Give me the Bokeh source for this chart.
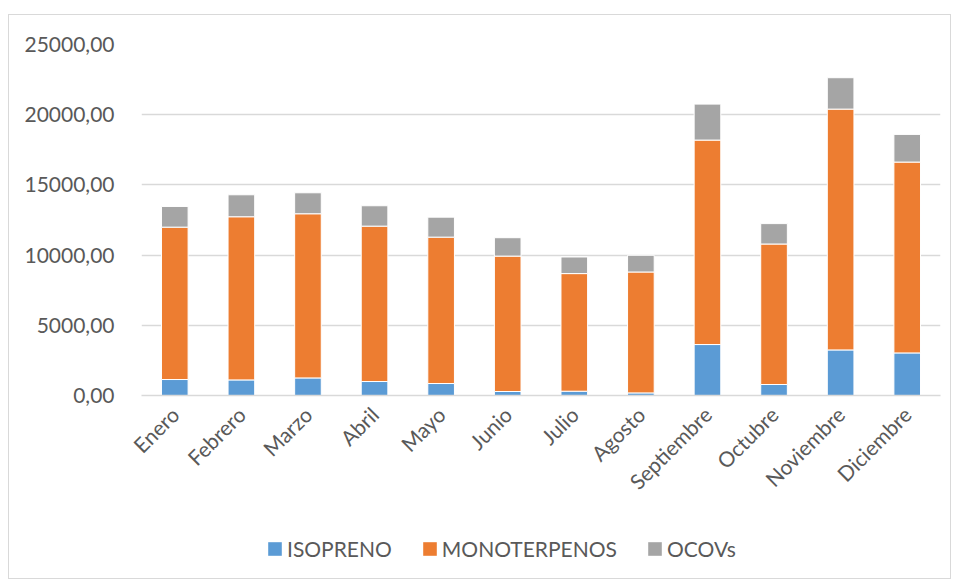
from bokeh.plotting import figure
from bokeh.models import (ColumnDataSource, FactorRange, Range1d, FixedTicker,
                          Legend, LegendItem)
from bokeh.layouts import column
from bokeh.embed import file_html
from bokeh.resources import INLINE
import math

months = ["Enero", "Febrero", "Marzo", "Abril", "Mayo", "Junio", "Julio",
          "Agosto", "Septiembre", "Octubre", "Noviembre", "Diciembre"]
isopreno = [1138, 1110, 1252, 996, 853, 284, 306, 185, 3630, 783, 3246, 3032]
monoterpenos = [10853, 11621, 11693, 11067, 10427, 9645, 8377, 8612, 14562,
                10007, 17153, 13594]
ocovs = [1473, 1565, 1493, 1451, 1423, 1309, 1182, 1189, 2562, 1452, 2234, 1972]
series = ["ISOPRENO", "MONOTERPENOS", "OCOVs"]
colors = ["#5B9BD5", "#ED7D31", "#A5A5A5"]
y_ticks = [0, 5000, 10000, 15000, 20000, 25000]
y_tick_labels = ["0,00", "5000,00", "10000,00", "15000,00", "20000,00", "25000,00"]

FONT = "Lato"
TXT = "#595959"
FS = "21px"

src = ColumnDataSource(dict(month=months, ISOPRENO=isopreno,
                            MONOTERPENOS=monoterpenos, OCOVs=ocovs))

# main chart
p = figure(x_range=FactorRange(*months, range_padding=0),
           y_range=Range1d(0, 25000),
           width=941, height=505, output_backend="svg", toolbar_location=None,
           min_border_left=132, min_border_right=10, min_border_top=29,
           min_border_bottom=125)
p.outline_line_color = None

p.vbar_stack(series, x="month", width=0.4, color=colors,
             line_color="white", line_width=1, source=src)

p.xgrid.grid_line_color = None
p.ygrid.grid_line_color = "#D9D9D9"
p.ygrid.grid_line_width = 1.5
p.yaxis.ticker = FixedTicker(ticks=y_ticks)
p.yaxis.major_label_overrides = {t: l for t, l in zip(y_ticks, y_tick_labels)}
p.yaxis.axis_line_color = None
p.yaxis.major_tick_line_color = None
p.yaxis.minor_tick_line_color = None
p.yaxis.major_label_standoff = 21
p.xaxis.axis_line_color = "#D9D9D9"
p.xaxis.axis_line_width = 1.5
p.xaxis.major_tick_line_color = None
p.xaxis.major_label_orientation = math.pi / 4
p.xaxis.major_label_standoff = 9
for ax in (p.xaxis, p.yaxis):
    ax.major_label_text_font = FONT
    ax.major_label_text_font_size = FS
    ax.major_label_text_color = TXT

# legend strip (same series, hidden renderers so only the legend shows)
lg = figure(x_range=FactorRange(*months, range_padding=0), y_range=Range1d(-2, -1),
            width=941, height=58, output_backend="svg", toolbar_location=None,
            min_border=0, min_border_left=0, min_border_right=0,
            min_border_top=0, min_border_bottom=0)
lg.axis.visible = False
lg.grid.visible = False
lg.outline_line_color = None
lg_renderers = lg.vbar_stack(series, x="month", width=0.4, color=colors,
                             line_alpha=0, source=src)
for r in lg_renderers:
    r.visible = False
items = [LegendItem(label=s, renderers=[r]) for s, r in zip(series, lg_renderers)]
legend = Legend(items=items, orientation="horizontal", location=(125, 17),
                border_line_color=None, background_fill_alpha=0,
                padding=0, margin=0, spacing=29, label_standoff=4,
                glyph_width=17, glyph_height=17, click_policy="none",
                label_text_font=FONT, label_text_font_size=FS,
                label_text_color=TXT)
lg.add_layout(legend, "center")

layout = column(p, lg, spacing=0)
layout.styles = {"margin-left": "9px", "margin-top": "15px",
                 "box-shadow": "0 0 0 1px #D9D9D9"}

open("out.html", "w").write(file_html(layout, INLINE))
